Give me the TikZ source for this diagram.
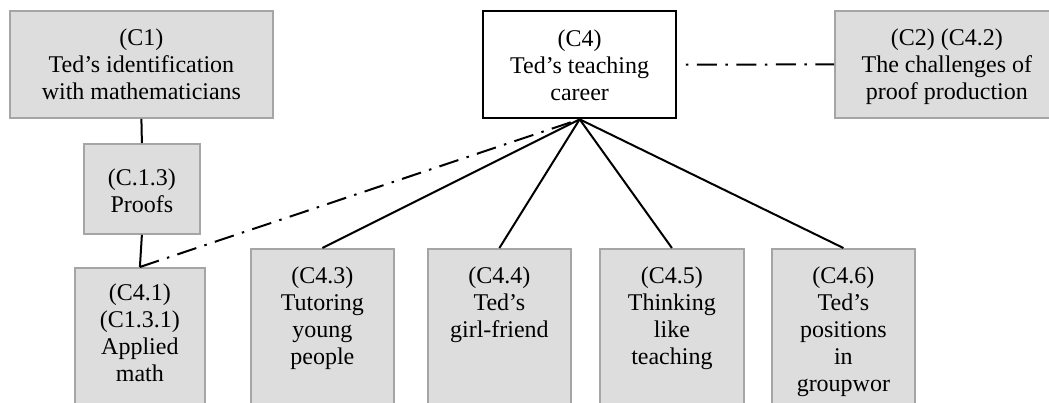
\documentclass[tikz,border=0pt]{standalone}
\usepackage{fontspec}
\setmainfont{Liberation Serif}
\definecolor{boxfill}{RGB}{221,221,221}
\definecolor{boxedge}{RGB}{165,165,165}
% fixed-size cell: width, height, height of first line (top gap to first baseline), text
\newcommand{\cellbox}[4]{\parbox[c][#2pt][t]{#1pt}{\centering\fontsize{24}{27}\selectfont\rule{0pt}{#3pt}#4}}
\tikzset{
  catbox/.style={draw=boxedge, fill=boxfill, line width=1.8pt, inner sep=0pt, anchor=north west},
  corebox/.style={draw=black, fill=white, line width=2.3pt, inner sep=0pt, anchor=north west},
  link/.style={line width=2pt},
  dashlink/.style={line width=2pt, dash pattern=on 20pt off 8.5pt on 2.5pt off 8.5pt}
}
\begin{document}
\begin{tikzpicture}[x=1pt,y=-1pt]
\useasboundingbox (0,0) rectangle (1049,402);
\clip (0,0) rectangle (1049,402);
% top row
\node[catbox]  (c1) at (9,10)  {\cellbox{263}{107}{35}{(C1)\\Ted’s identification\\with mathematicians}};
\node[corebox] (c4) at (482,10) {\cellbox{193}{107}{35}{(C4)\\Ted’s teaching\\career}};
\node[catbox]  (c2) at (834,10) {\cellbox{224}{107}{35}{(C2) (C4.2)\\The challenges of\\proof production}};
% left branch
\node[catbox]  (c13) at (83,143) {\cellbox{116}{90}{42}{(C.1.3)\\Proofs}};
\node[catbox]  (c41) at (74,267) {\cellbox{130}{160}{33}{(C4.1)\\(C1.3.1)\\Applied\\math}};
% sub-categories of the teaching career
\node[catbox]  (c43) at (250,248) {\cellbox{143}{180}{35}{(C4.3)\\Tutoring\\young\\people}};
\node[catbox]  (c44) at (427,248) {\cellbox{143}{180}{35}{(C4.4)\\Ted’s\\girl-friend}};
\node[catbox]  (c45) at (599,248) {\cellbox{144}{180}{35}{(C4.5)\\Thinking\\like\\teaching}};
\node[catbox]  (c46) at (771,248) {\cellbox{143}{180}{35}{(C4.6)\\Ted’s\\positions\\in\\groupwor}};
% connectors
\draw[link] (c1.south) -- (c13.north);
\draw[link] (c13.south) -- (c41.north);
\draw[dashlink] (c41.north) -- (c4.south);
\draw[dashlink, dash phase=20pt] (c4.east) -- (c2.west);
\draw[link] (c4.south) -- (c43.north);
\draw[link] (c4.south) -- (c44.north);
\draw[link] (c4.south) -- (c45.north);
\draw[link] (c4.south) -- (c46.north);
\end{tikzpicture}
\end{document}
